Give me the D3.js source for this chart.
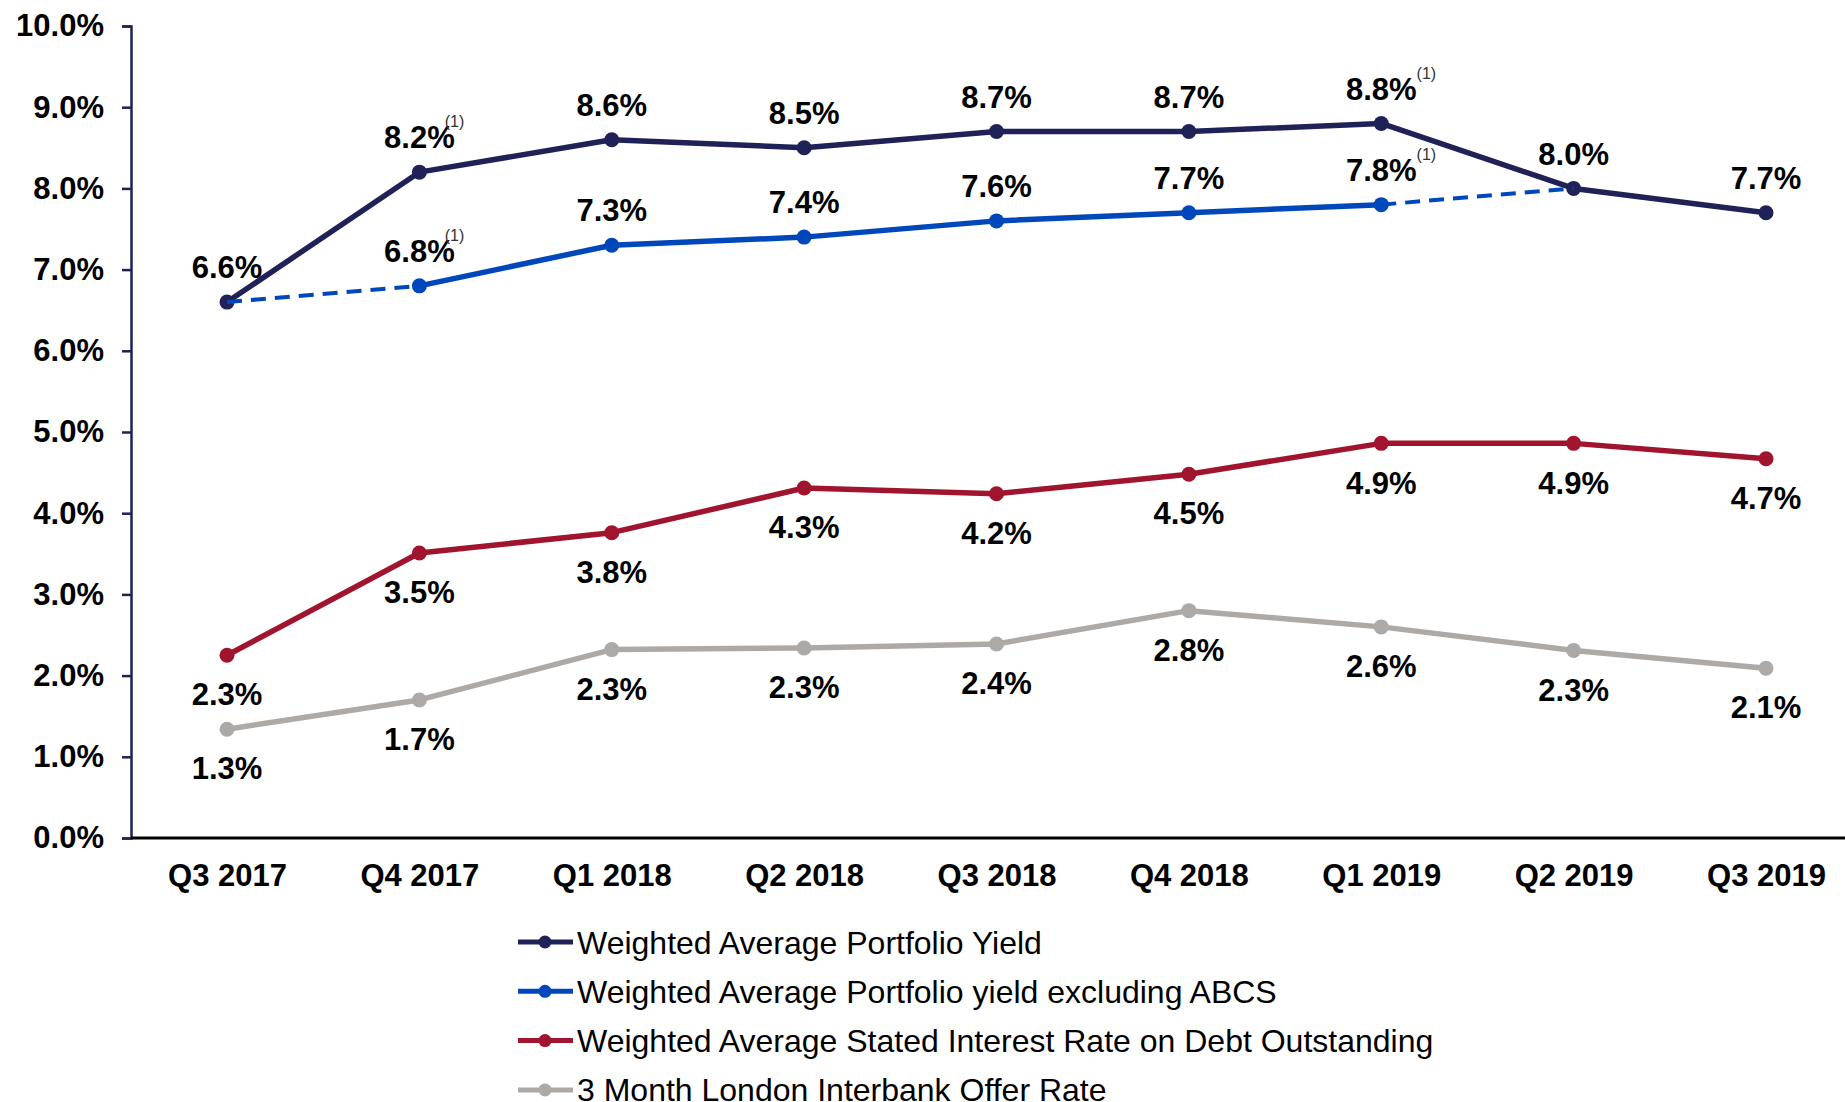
<!DOCTYPE html>
<html>
<head>
<meta charset="utf-8">
<script src="https://d3js.org/d3.v7.min.js"></script>
<style>
  html, body { margin: 0; padding: 0; background: #fff; }
  svg { display: block; }
  text { font-family: "Liberation Sans", Arial, sans-serif; }
</style>
</head>
<body>
<svg id="chart" width="1845" height="1102"></svg>
<script>
// ---------- DATA ----------
const categories = ["Q3 2017","Q4 2017","Q1 2018","Q2 2018","Q3 2018","Q4 2018","Q1 2019","Q2 2019","Q3 2019"];
const yTicks = [0,1,2,3,4,5,6,7,8,9,10];

const yieldValues   = [6.6, 8.2, 8.6, 8.5, 8.7, 8.7, 8.8, 8.0, 7.7];
const yieldLabels   = ["6.6%","8.2%","8.6%","8.5%","8.7%","8.7%","8.8%","8.0%","7.7%"];

const exAbcsValues  = [6.6, 6.8, 7.3, 7.4, 7.6, 7.7, 7.8, 8.0, null];
const exAbcsLabels  = [null,"6.8%","7.3%","7.4%","7.6%","7.7%","7.8%",null,null];
const exAbcsSolid   = [1, 6];           // solid segment index range; dashed connectors outside it

const debtValues    = [2.25, 3.51, 3.76, 4.31, 4.24, 4.48, 4.86, 4.86, 4.67];
const debtLabels    = ["2.3%","3.5%","3.8%","4.3%","4.2%","4.5%","4.9%","4.9%","4.7%"];

const liborValues   = [1.34, 1.70, 2.32, 2.34, 2.39, 2.80, 2.60, 2.31, 2.09];
const liborLabels   = ["1.3%","1.7%","2.3%","2.3%","2.4%","2.8%","2.6%","2.3%","2.1%"];

const seriesNames = [
  "Weighted Average Portfolio Yield",
  "Weighted Average Portfolio yield excluding ABCS",
  "Weighted Average Stated Interest Rate on Debt Outstanding",
  "3 Month London Interbank Offer Rate"
];
const footnotes = [ {series: 0, index: 1}, {series: 0, index: 6}, {series: 1, index: 1}, {series: 1, index: 6} ];
const footnoteText = "(1)";

// ---------- STYLE ----------
const colors = ["#1F2157", "#0047BB", "#A0142E", "#ADA9A6"];
const svg = d3.select("#chart");

const x = d3.scalePoint().domain(categories).range([227, 1766]);
const y = d3.scaleLinear().domain([0, 10]).range([838, 26]);

// Y axis
const yAxis = svg.append("g")
  .attr("transform", "translate(131,0)")
  .call(d3.axisLeft(y).tickValues(yTicks).tickSize(9).tickPadding(18)
        .tickFormat(d => d.toFixed(1) + "%"));
yAxis.select(".domain").attr("stroke", "#1F2157").attr("stroke-width", 2.5);
yAxis.selectAll(".tick line").attr("stroke", "#1F2157").attr("stroke-width", 2.5);
yAxis.selectAll(".tick text")
  .attr("fill", "#000").style("font-size", "31px").style("font-weight", "bold")
  .style("font-family", "'Liberation Sans', Arial, sans-serif");

// X axis
const xAxis = svg.append("g")
  .attr("transform", "translate(0,838)")
  .call(d3.axisBottom(x).tickSize(0).tickPadding(26));
xAxis.select(".domain").attr("d", "M131,0H1845").attr("stroke", "#000").attr("stroke-width", 3);
xAxis.selectAll(".tick text")
  .attr("fill", "#000").style("font-size", "31px").style("font-weight", "bold")
  .style("font-family", "'Liberation Sans', Arial, sans-serif");

const line = d3.line().x((d) => x(d.c)).y((d) => y(d.v));
function pts(vals) { return vals.map((v, i) => ({c: categories[i], v: v, i: i})).filter(d => d.v !== null); }

function drawSeries(vals, color, width) {
  const p = pts(vals);
  svg.append("path").datum(p).attr("d", line)
    .attr("fill", "none").attr("stroke", color).attr("stroke-width", width)
    .attr("stroke-linejoin", "round");
  svg.selectAll(null).data(p).enter().append("circle")
    .attr("cx", d => x(d.c)).attr("cy", d => y(d.v)).attr("r", 7.5).attr("fill", color);
}

function drawLabels(vals, labels, dy) {
  const p = pts(vals).filter(d => labels[d.i]);
  return svg.selectAll(null).data(p).enter().append("text")
    .attr("x", d => x(d.c)).attr("y", d => y(d.v) + dy).attr("dy", "0.36em")
    .attr("text-anchor", "middle").style("font-size", "31px").style("font-weight", "bold")
    .attr("fill", "#000").text(d => labels[d.i]);
}

// LIBOR & debt
drawSeries(liborValues, colors[3], 5.5);
drawSeries(debtValues, colors[2], 5.5);
// Portfolio yield
drawSeries(yieldValues, colors[0], 5.5);

// Excluding ABCS: solid middle + dashed connectors
const exP = pts(exAbcsValues);
const solidP = exP.filter(d => d.i >= exAbcsSolid[0] && d.i <= exAbcsSolid[1]);
svg.append("path").datum(solidP).attr("d", line).attr("fill", "none")
  .attr("stroke", colors[1]).attr("stroke-width", 5.5).attr("stroke-linejoin", "round");
[exP.filter(d => d.i <= exAbcsSolid[0]), exP.filter(d => d.i >= exAbcsSolid[1])].forEach(seg => {
  svg.append("path").datum(seg).attr("d", line).attr("fill", "none")
    .attr("stroke", colors[1]).attr("stroke-width", 4).attr("stroke-dasharray", "15,9");
});
svg.selectAll(null).data(solidP).enter().append("circle")
  .attr("cx", d => x(d.c)).attr("cy", d => y(d.v)).attr("r", 7.5).attr("fill", colors[1]);

// Labels
const lab0 = drawLabels(yieldValues, yieldLabels, -35);
const lab1 = drawLabels(exAbcsValues, exAbcsLabels, -35);
drawLabels(debtValues, debtLabels, 39);
drawLabels(liborValues, liborLabels, 39);

// Footnote superscripts
const labelSets = [lab0, lab1];
footnotes.forEach(f => {
  const node = labelSets[f.series].filter(d => d.i === f.index).node();
  const bb = node.getBBox();
  svg.append("text")
    .attr("x", bb.x + bb.width - (f.index === 1 ? 10 : 0)).attr("y", bb.y + 7)
    .style("font-size", "16px").attr("fill", "#333").text(footnoteText);
});

// Legend
const legend = svg.append("g");
seriesNames.forEach((name, i) => {
  const cy = 942 + i * 49.3;
  legend.append("line").attr("x1", 518).attr("x2", 573).attr("y1", cy).attr("y2", cy)
    .attr("stroke", colors[i]).attr("stroke-width", 5);
  legend.append("circle").attr("cx", 545).attr("cy", cy).attr("r", 6.5).attr("fill", colors[i]);
  legend.append("text").attr("x", 577).attr("y", cy).attr("dy", "0.36em")
    .style("font-size", "32px").attr("fill", "#000").text(name);
});
</script>
</body>
</html>
